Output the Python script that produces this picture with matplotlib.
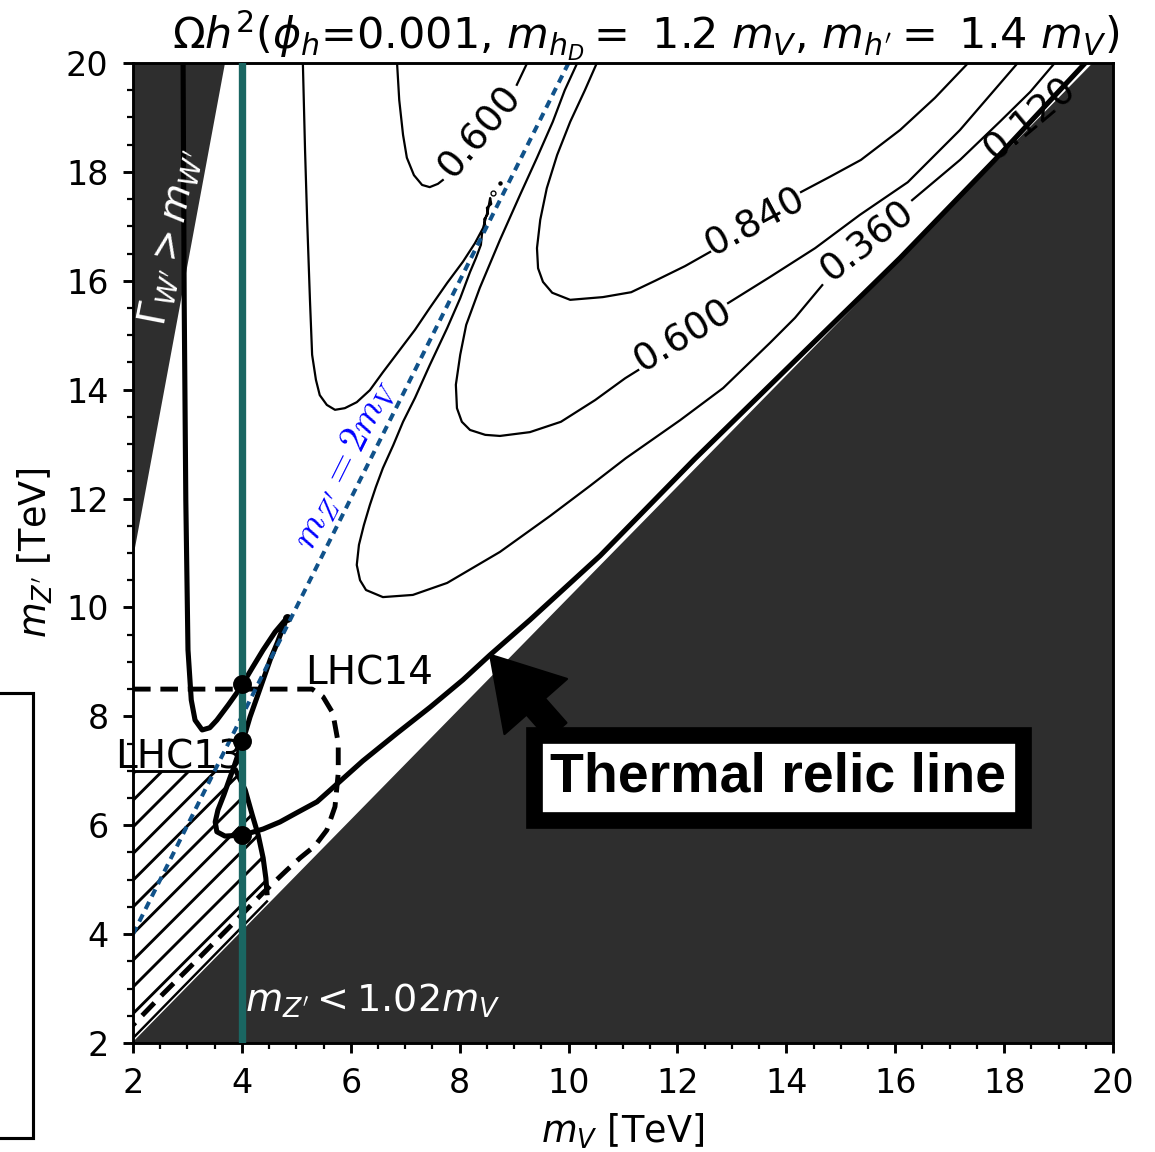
import numpy as np
import matplotlib
matplotlib.use("Agg")
import matplotlib.pyplot as plt
from matplotlib.patches import Polygon, Rectangle
from matplotlib.ticker import MultipleLocator

plt.rcParams["font.family"] = ["DejaVu Sans"]
plt.rcParams["mathtext.fontset"] = "dejavusans"
plt.rcParams["hatch.linewidth"] = 1.3
plt.rcParams["axes.linewidth"] = 1.3

DARK = "#2e2e2e"
TEAL = "#1a6662"
RES_BLUE = "#10528a"

# ---- physics inputs -------------------------------------------------------
mass_ticks = [2, 4, 6, 8, 10, 12, 14, 16, 18, 20]
degenerate_ratio = 1.02          # m_Z' < 1.02 m_V excluded
resonance_ratio = 2.0            # m_Z' = 2 m_V
benchmark_mv = 4.0
benchmark_mz = [8.6, 7.55, 5.82]
lhc14_reach = 8.5
lhc13_limit = 7.0

# width > mass region (m_V, m_Z') edge
width_edge_mv = [2.0, 3.69]
width_edge_mz = [10.9, 20.0]

# thermal relic line, Omega h^2 = 0.12 (m_V, m_Z')
relic_mv = [2.92, 2.94, 2.97, 3.01, 3.07, 3.14, 3.27, 3.41, 3.54, 3.75, 3.97, 4.19,
            4.39, 4.61, 4.83, 4.74, 4.65, 4.52, 4.39, 4.26, 4.15, 4.07, 4.00, 3.93,
            3.85, 3.78, 3.67, 3.56, 3.51, 3.54, 3.69, 4.02, 4.39, 4.70, 5.01, 5.38,
            5.75, 6.22, 6.85, 7.46, 8.06, 8.56, 9.29, 10.58, 12.32, 14.25, 16.09,
            17.83, 19.49]
relic_mz = [20.00, 15.65, 11.97, 9.22, 8.30, 7.93, 7.75, 7.79, 7.93, 8.21, 8.52, 8.89,
            9.22, 9.55, 9.81, 9.59, 9.35, 9.04, 8.67, 8.30, 7.99, 7.72, 7.55, 7.30,
            7.06, 6.87, 6.56, 6.28, 6.06, 5.88, 5.80, 5.82, 5.93, 6.06, 6.23, 6.43,
            6.76, 7.18, 7.69, 8.17, 8.67, 9.13, 9.77, 10.95, 12.73, 14.62, 16.42,
            18.22, 20.00]
relic_branch_mv = [3.89, 4.06, 4.19, 4.30, 4.39, 4.44, 4.46]
relic_branch_mz = [7.00, 6.65, 6.19, 5.82, 5.40, 5.03, 4.76]

# LHC13 excluded area (lower edge just above the degenerate line)
lhc13_floor_mv = [4.46, 2.00]
lhc13_floor_mz = [4.60, 2.09]

# LHC14 projected reach
lhc14_mv = [2.00, 5.29, 5.49, 5.67, 5.77, 5.77, 5.71, 5.56, 5.34, 5.07, 4.83, 4.39,
            3.97, 3.18, 2.55, 2.00]
lhc14_mz = [8.50, 8.50, 8.36, 8.06, 7.51, 6.96, 6.34, 5.91, 5.62, 5.40, 5.18, 4.76,
            4.33, 3.53, 2.90, 2.33]

# Omega h^2 = 0.36
c036_a_mv = [5.12, 5.16, 5.20, 5.25, 5.29, 5.36, 5.43, 5.56, 5.71, 5.89, 6.11, 6.35,
             6.59, 6.90, 7.18, 7.45, 7.77, 8.06, 8.28, 8.43, 8.52, 8.56, 8.58, 8.50,
             8.52, 8.45, 8.47, 8.41, 8.39, 8.30, 8.19, 8.01, 7.77, 7.45, 7.18, 6.96,
             6.78, 6.59, 6.46, 6.35, 6.24, 6.15, 6.11, 6.17, 6.28, 6.59, 7.14, 7.77,
             8.74, 9.66, 10.39, 11.05, 12.05, 12.84, 13.70, 14.16, 14.66]
c036_a_mz = [20.00, 18.40, 17.08, 15.65, 14.64, 14.18, 13.90, 13.72, 13.63, 13.66,
             13.77, 13.99, 14.32, 14.73, 15.10, 15.50, 15.96, 16.35, 16.69, 16.97,
             17.30, 17.52, 17.41, 17.34, 17.23, 17.13, 17.01, 16.86, 16.66, 16.42,
             16.16, 15.68, 15.13, 14.45, 13.85, 13.41, 12.98, 12.56, 12.21, 11.88,
             11.51, 11.15, 10.78, 10.50, 10.32, 10.19, 10.23, 10.45, 11.02, 11.68,
             12.23, 12.74, 13.44, 14.03, 14.86, 15.32, 15.92]
c036_b_mv = [16.31, 17.19, 17.92, 18.48, 18.93]
c036_b_mz = [17.48, 18.22, 18.92, 19.47, 20.00]

# Omega h^2 = 0.60 (two separate pieces)
c060_a_mv = [6.85, 6.89, 6.96, 7.03, 7.16, 7.31, 7.45, 7.60, 7.69]
c060_a_mz = [20.00, 19.32, 18.68, 18.26, 17.94, 17.76, 17.72, 17.78, 17.85]
c060_b_mv = [9.05, 9.24]
c060_b_mz = [19.60, 20.00]
c060_c_mv = [10.16, 9.93, 9.71, 9.42, 9.11, 8.74, 8.37, 8.12, 8.01, 7.93, 7.95, 8.04,
             8.19, 8.47, 8.74, 9.29, 9.86, 10.49, 11.04, 11.28]
c060_c_mz = [20.00, 19.50, 18.92, 18.26, 17.58, 16.75, 15.87, 15.19, 14.64, 14.09,
             13.66, 13.41, 13.26, 13.17, 13.15, 13.22, 13.41, 13.81, 14.21, 14.36]
c060_d_mv = [12.93, 13.70, 14.53, 15.35, 16.23, 17.19, 18.25]
c060_d_mz = [15.59, 16.07, 16.60, 17.21, 17.81, 18.77, 20.00]

# Omega h^2 = 0.84
c084_a_mv = [10.52, 10.30, 10.03, 9.79, 9.60, 9.48, 9.42, 9.44, 9.53, 9.70, 10.03,
             10.63, 11.15, 11.59, 12.14, 12.60]
c084_a_mz = [20.00, 19.50, 18.92, 18.31, 17.70, 17.12, 16.60, 16.23, 15.98, 15.78,
             15.65, 15.70, 15.79, 16.00, 16.27, 16.53]
c084_b_mv = [14.27, 14.80, 15.37, 16.09, 16.73, 17.34]
c084_b_mz = [17.63, 17.91, 18.22, 18.77, 19.36, 20.00]

# small closed islands near the resonance tip
island_mv = [8.61, 8.74]
island_mz = [17.61, 17.80]

# inline contour labels: text, m_V, m_Z', angle
contour_labels = [("0.600", 8.37, 18.73, 50),
                  ("0.840", 13.43, 17.08, 28),
                  ("0.600", 12.10, 14.98, 31),
                  ("0.360", 15.49, 16.72, 38),
                  ("0.120", 18.48, 18.97, 40)]

# ---- figure ---------------------------------------------------------------
fig = plt.figure(figsize=(1155 / 160, 1152 / 160), dpi=160)
ax = fig.add_axes([133 / 1155, 109 / 1152, 980 / 1155, 980 / 1152])
ax.set_xlim(2, 20)
ax.set_ylim(2, 20)

# excluded regions
mv = np.linspace(2, 20, 400)
ax.fill_between(mv, 2, degenerate_ratio * mv, color=DARK, lw=0, zorder=1)
ax.add_patch(Polygon([(width_edge_mv[0], width_edge_mz[0]),
                      (width_edge_mv[1], width_edge_mz[1]), (2, 20)],
                     closed=True, fc=DARK, ec="none", zorder=1))

# LHC13 hatched exclusion
hatch_pts = ([(2.0, lhc13_limit)] + list(zip(relic_branch_mv, relic_branch_mz))
             + list(zip(lhc13_floor_mv, lhc13_floor_mz)))
ax.add_patch(Polygon(hatch_pts, closed=True, fill=False, hatch="//", ec="black",
                     lw=0, zorder=1.5))
ax.plot([2.0, relic_branch_mv[0]], [lhc13_limit, lhc13_limit], color="k", lw=1.3,
        zorder=2)
ax.plot(lhc13_floor_mv, lhc13_floor_mz, color="k", lw=1.1, zorder=2)

# relic-density contours
thin = dict(color="k", lw=1.0, zorder=2)
for xs, ys in [(c036_a_mv, c036_a_mz), (c036_b_mv, c036_b_mz),
               (c060_a_mv, c060_a_mz), (c060_b_mv, c060_b_mz),
               (c060_c_mv, c060_c_mz), (c060_d_mv, c060_d_mz),
               (c084_a_mv, c084_a_mz), (c084_b_mv, c084_b_mz)]:
    ax.plot(xs, ys, **thin)
ax.plot(island_mv[:1], island_mz[:1], "o", mfc="none", mec="k", ms=2.2, mew=0.6,
        zorder=2)
ax.plot(island_mv[1:], island_mz[1:], "o", color="k", ms=1.0, zorder=2)

ax.plot(relic_mv, relic_mz, color="k", lw=2.3, zorder=2.2, solid_joinstyle="round")
ax.plot(relic_branch_mv, relic_branch_mz, color="k", lw=2.3, zorder=2.2)
ax.plot(relic_mv[14:15], relic_mz[14:15], "o", color="k", ms=3, zorder=2.2)

for txt, x, y, ang in contour_labels:
    ax.text(x, y, txt, rotation=ang, rotation_mode="anchor", ha="center",
            va="center", fontsize=17, zorder=3)

# LHC14 reach
ax.plot(lhc14_mv, lhc14_mz, color="k", lw=2.2, dashes=(3.6, 2.0), zorder=2.3)

# Z' resonance line
res_mv = np.array([2.0, 20.0 / resonance_ratio])
ax.plot(res_mv, resonance_ratio * res_mv, color=RES_BLUE, lw=1.8, dashes=(2.0, 1.5),
        zorder=2.4)
ax.text(5.89, 12.62, r"$m_{Z'} = 2m_V$", color="blue", math_fontfamily="cm",
        rotation=np.degrees(np.arctan(resonance_ratio)), rotation_mode="anchor",
        ha="center", va="center", fontsize=17.5, zorder=3)

# benchmark line and points
ax.axvline(benchmark_mv, color=TEAL, lw=3.3, zorder=4)
ax.plot([benchmark_mv] * len(benchmark_mz), benchmark_mz, "o", color="k", ms=7.5,
        zorder=5)

# region labels
ax.text(2.70, 16.80, r"$\Gamma_{W'} > m_{W'}$", color="white", rotation=79,
        rotation_mode="anchor", ha="center", va="center", fontsize=17.5, zorder=6)
ax.text(4.06, 2.57, r"$m_{Z'} < 1.02m_V$", color="white", ha="left",
        va="baseline", fontsize=17.2, zorder=6)
ax.text(5.16, 8.58, "LHC14", fontsize=17.5, ha="left", va="baseline", zorder=6)
ax.text(1.67, 7.05, "LHC13", fontsize=17.5, ha="left", va="baseline", zorder=3.5)

ax.annotate("Thermal relic line", xy=(relic_mv[41], relic_mz[41]),
            xytext=(13.85, 6.88), textcoords="data", ha="center", va="center",
            fontsize=25, fontweight="bold", family="Liberation Sans",
            bbox=dict(boxstyle="square,pad=0.3", fc="white", ec="black", lw=7.5),
            arrowprops=dict(arrowstyle="simple,head_length=1.24,head_width=1.5,"
                                       "tail_width=0.44",
                            fc="black", ec="black", relpos=(0.055, 1.0),
                            shrinkA=0, shrinkB=0),
            zorder=7)

# axes cosmetics
ax.set_xticks(mass_ticks)
ax.set_yticks(mass_ticks)
ax.xaxis.set_minor_locator(MultipleLocator(0.5))
ax.yaxis.set_minor_locator(MultipleLocator(0.5))
ax.tick_params(which="major", length=4.5, width=1.3, labelsize=15, pad=6.5)
ax.tick_params(which="minor", length=2.5, width=1.0)
ax.set_xlabel(r"$m_V$ [TeV]", fontsize=16.5, labelpad=5)
ax.set_ylabel(r"$m_{Z'}$ [TeV]", fontsize=16.5, labelpad=5)
ax.set_title(r"$\Omega h^2(\phi_h$=0.001, $m_{h_D} = $ 1.2 $m_V$, "
             r"$m_{h'} = $ 1.4 $m_V$)", fontsize=19.3, x=0.5235, pad=2)

# frame of the neighbouring panel
fig.add_artist(Rectangle((-0.02, 0.01215), 0.0486, 0.3863, transform=fig.transFigure,
                         fill=False, ec="black", lw=1.4, clip_on=False))

fig.savefig("out.png", dpi=160)
